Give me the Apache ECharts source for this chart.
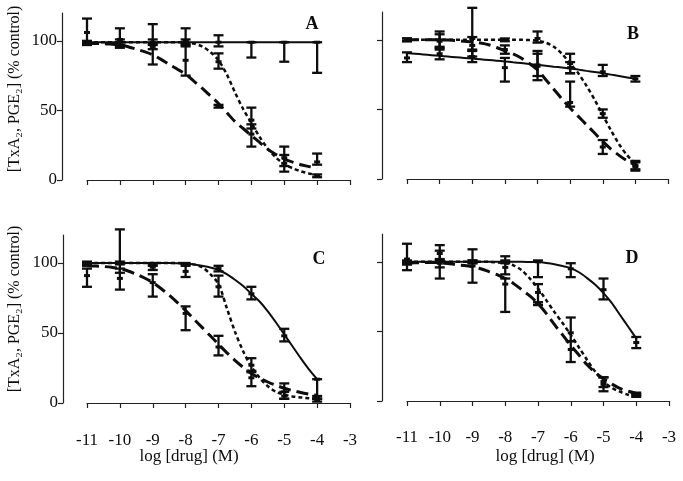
<!DOCTYPE html>
<html><head><meta charset="utf-8">
<script src="https://cdn.jsdelivr.net/npm/echarts@6/dist/echarts.min.js"></script>
<style>html,body{margin:0;padding:0;background:#fff}#c{width:683px;height:481px}</style>
</head><body><div id="c"></div>
<script>
// ---------- data ----------
const doses = [-11, -10, -9, -8, -7, -6, -5, -4];
const xTicks = [-11, -10, -9, -8, -7, -6, -5, -4, -3];
const yTicks = [0, 50, 100];
// fitted-curve sample positions (log M), every 0.25 from -11 to -4
const curveX = [-11, -10.75, -10.5, -10.25, -10, -9.75, -9.5, -9.25, -9, -8.75, -8.5, -8.25, -8,
  -7.75, -7.5, -7.25, -7, -6.75, -6.5, -6.25, -6, -5.75, -5.5, -5.25, -5, -4.75, -4.5, -4.25, -4];
const panelLetters = ['A', 'B', 'C', 'D'];

// Panel A
const A_solidCurve = [99, 99, 99, 99, 99, 99, 99, 99, 99, 99, 99, 99, 99, 99, 99, 99, 99, 99, 99, 99, 99, 99, 99, 99, 99, 99, 99, 99, 99];
const A_shortCurve = [99, 99, 99, 99, 99, 99, 99, 99, 99, 99, 99, 99, 99, 98, 96, 92, 86, 76, 63, 51, 41, 31, 22.5, 16, 11.5, 8.5, 6.3, 4.7, 3.5];
const A_longCurve  = [98, 98, 98, 97.6, 97, 95.8, 94, 92.2, 90, 86.7, 83, 79.6, 76, 71, 66, 60.5, 55, 48.5, 42, 37, 32, 27, 22, 18.3, 15, 12.9, 11, 9.7, 8.5];
const A_solidMean = [106, 101, 98, 100, 99, 99, 99, 99];
const A_solidLow  = [98, 96, 83, 98, 96, 88, 85, 77];
const A_solidHigh = [116, 109, 112, 109, 104, 99, 99, 99];
const A_shortMean = [99, 99, 99, 99, 85, 43, 12, 3];
const A_shortLow  = [98, 97, 97, 97, 80, 37, 6, 2];
const A_shortHigh = [100, 101, 101, 101, 91, 52, 18, 4];
const A_longMean  = [98, 97, 96, 86, 53, 33, 16, 13];
const A_longLow   = [97, 95, 94, 75, 52, 24, 10, 11];
const A_longHigh  = [99, 99, 98, 96, 54, 40, 24, 19];

// Panel B
const B_solidCurve = [90.5, 90, 89.5, 89, 88.5, 88, 87.5, 87, 86.5, 86, 85.5, 85, 84.5, 83.9, 83.3, 82.6, 82, 81.4, 80.7, 80.1, 79.4, 78.6, 77.7, 76.9, 76, 75, 74, 73, 72];
const B_shortCurve = [100, 100, 100, 100, 100, 100, 100, 100, 100, 100, 100, 100, 100, 100, 100, 99.8, 99.3, 98, 95, 90, 83, 76, 67, 57, 46, 35, 25, 17, 11];
const B_longCurve  = [100, 100, 100, 100, 100, 99.8, 99.5, 99, 98.5, 97.7, 96.5, 94.5, 92, 90, 87, 83, 78.5, 71.5, 64.5, 57.5, 51, 45, 39, 33, 27, 21.5, 17, 13, 10];
const B_solidMean = [87, 90, 88, 80, 81, 80, 77, 72];
const B_solidLow  = [84, 86, 84, 70, 71, 76, 74, 70];
const B_solidHigh = [91, 94, 92, 87, 92, 84, 82, 74];
const B_shortMean = [100, 100, 101, 100, 101, 83, 47, 9];
const B_shortLow  = [99, 95, 93, 99, 98, 76, 44, 6];
const B_shortHigh = [101, 106, 123, 101, 106, 90, 50, 12];
const B_longMean  = [100, 99, 96, 93, 82, 55, 23, 10];
const B_longLow   = [99, 93, 88, 90, 74, 52, 18, 7];
const B_longHigh  = [101, 104, 102, 96, 90, 70, 28, 13];

// Panel C
const C_solidCurve = [100, 100, 100, 100, 100, 100, 100, 100, 100, 100, 100, 99.8, 99.5, 99, 98, 96.8, 95, 92, 88, 83.5, 78, 72.5, 65.5, 57.5, 49, 40.5, 32, 24, 17];
const C_shortCurve = [100, 100, 100, 100, 100, 100, 100, 100, 100, 100, 100, 100, 99.5, 99, 97, 92, 85, 68, 51, 37, 26, 18, 12, 8, 6, 4.7, 4, 3.4, 3];
const C_longCurve  = [98, 97.8, 97.5, 96.9, 96, 94.3, 92, 89.3, 86, 81.8, 77, 71.7, 66, 60, 54, 48, 42, 36, 30.5, 25.5, 21, 17.8, 15, 12.6, 10.5, 8.9, 7.5, 6.4, 5.5];
const C_solidMean = [100, 100, 99, 99, 96, 78, 48, 17];
const C_solidLow  = [99, 99, 98, 98, 94, 74, 44, 3];
const C_solidHigh = [101, 101, 100, 100, 98, 83, 53, 17];
const C_shortMean = [99, 100, 97, 94, 83, 27, 5, 2];
const C_shortLow  = [98, 93, 95, 90, 76, 22, 3, 1];
const C_shortHigh = [100, 124, 99, 99, 91, 32, 8, 3];
const C_longMean  = [91, 89, 86, 64, 40, 18, 8, 4];
const C_longLow   = [83, 81, 76, 52, 34, 12, 3, 3];
const C_longHigh  = [96, 96, 92, 69, 48, 23, 14, 5];

// Panel D
const D_solidCurve = [100, 100, 100, 100, 100, 100, 100, 100, 100, 100, 100, 100, 100, 100, 100, 99.9, 99.8, 99.2, 98.3, 97, 95.5, 92.5, 88.3, 83.5, 77.5, 70.5, 62, 53.5, 45];
const D_shortCurve = [100, 100, 100, 100, 100, 100, 100, 100, 100, 100, 100, 99.6, 99, 97.5, 94, 88, 81, 72.5, 64, 56, 47.5, 38.5, 29.5, 21, 14, 9.5, 6.7, 4.5, 3];
const D_longCurve  = [99, 99.3, 99.5, 99.5, 99.4, 98.8, 98, 97.3, 96.5, 95, 93, 90.8, 88, 84.5, 80, 75.5, 70, 63, 55, 47.5, 40, 33, 26, 20.5, 16, 12.3, 9, 7, 5.5];
const D_solidMean = [102, 101, 100, 100, 100, 95, 80, 42];
const D_solidLow  = [94, 88, 99, 99, 89, 89, 73, 38];
const D_solidHigh = [113, 108, 101, 101, 101, 99, 88, 46];
const D_shortMean = [100, 106, 100, 96, 78, 49, 12, 4];
const D_shortLow  = [99, 101, 99, 91, 69, 43, 7, 3];
const D_shortHigh = [101, 112, 101, 104, 84, 60, 17, 5];
const D_longMean  = [99, 99, 97, 84, 70, 37, 14, 5];
const D_longLow   = [98, 96, 85, 64, 69, 28, 10, 4];
const D_longHigh  = [100, 102, 109, 88, 71, 43, 17, 6];

// ---------- build ----------
const panels = [
  {curves:[A_solidCurve, A_shortCurve, A_longCurve], pts:[[A_solidMean,A_solidLow,A_solidHigh],[A_shortMean,A_shortLow,A_shortHigh],[A_longMean,A_longLow,A_longHigh]]},
  {curves:[B_solidCurve, B_shortCurve, B_longCurve], pts:[[B_solidMean,B_solidLow,B_solidHigh],[B_shortMean,B_shortLow,B_shortHigh],[B_longMean,B_longLow,B_longHigh]]},
  {curves:[C_solidCurve, C_shortCurve, C_longCurve], pts:[[C_solidMean,C_solidLow,C_solidHigh],[C_shortMean,C_shortLow,C_shortHigh],[C_longMean,C_longLow,C_longHigh]]},
  {curves:[D_solidCurve, D_shortCurve, D_longCurve], pts:[[D_solidMean,D_solidLow,D_solidHigh],[D_shortMean,D_shortLow,D_shortHigh],[D_longMean,D_longLow,D_longHigh]]}
];
const layout = [
  {left:87, right:333, top:13, bottom:301, xOff:27, yOff:25, showX:false, showY:true, letter:[312,24]},
  {left:407, right:15, top:12, bottom:302, xOff:23, yOff:25, showX:false, showY:false, letter:[633,34]},
  {left:87, right:333, top:235, bottom:78, xOff:24, yOff:24, showX:true, showY:true, letter:[319,259]},
  {left:407, right:14, top:234, bottom:80, xOff:23, yOff:25, showX:true, showY:false, letter:[632,258]}
];
const FONT = "'Liberation Serif','Times New Roman',serif";
const INK = '#0d0d0d';
const lineStyles = [
  {type:'solid', width:2},
  {type:[4,3], width:2.5},
  {type:[12,6], width:3}
];

function renderErr(params, api) {
  const x = api.value(0), m = api.value(1), lo = api.value(2), hi = api.value(3);
  const pLo = api.coord([x, lo]), pHi = api.coord([x, hi]), pM = api.coord([x, m]);
  const cw = 5, mw = 3;
  const st = {stroke: INK, lineWidth: 2.3};
  const ch = [];
  if (Math.abs(pLo[1] - pHi[1]) > 1.5) {
    ch.push({type:'line', shape:{x1:pLo[0], y1:pLo[1], x2:pHi[0], y2:pHi[1]}, style:st});
    ch.push({type:'line', shape:{x1:pHi[0]-cw, y1:pHi[1], x2:pHi[0]+cw, y2:pHi[1]}, style:st});
    ch.push({type:'line', shape:{x1:pLo[0]-cw, y1:pLo[1], x2:pLo[0]+cw, y2:pLo[1]}, style:st});
  }
  ch.push({type:'rect', shape:{x:pM[0]-mw, y:pM[1]-1.5, width:2*mw, height:3}, style:{fill: INK}});
  return {type:'group', children: ch};
}

const grid = [], xAxis = [], yAxis = [], series = [];
layout.forEach((L, i) => {
  grid.push({left:L.left, right:L.right, top:L.top, bottom:L.bottom, containLabel:false, outerBoundsMode:'none'});
  xAxis.push({
    type:'value', gridIndex:i, min:-11, max:-3, interval:1, offset:L.xOff,
    axisLine:{show:true, lineStyle:{color:'#222', width:1.2}},
    axisTick:{show:true, inside:false, length:5, lineStyle:{color:'#222', width:1.2}},
    axisLabel:{show:L.showX, color:INK, fontFamily:FONT, fontSize:17, margin:5, customValues: xTicks},
    splitLine:{show:false}
  });
  yAxis.push({
    type:'value', gridIndex:i, min:0, max:120, interval:50, offset:L.yOff,
    axisLine:{show:true, lineStyle:{color:'#222', width:1.2}},
    axisTick:{show:true, length:5, lineStyle:{color:'#222', width:1.2}, customValues: yTicks},
    axisLabel:{show:L.showY, color:INK, fontFamily:FONT, fontSize:17, margin:5, customValues: yTicks},
    splitLine:{show:false}
  });
  const P = panels[i];
  P.curves.forEach((c, k) => {
    series.push({
      type:'line', xAxisIndex:i, yAxisIndex:i, data: curveX.map((x, j) => [x, c[j]]),
      smooth:0.3, showSymbol:false, symbol:'none', silent:true,
      lineStyle:{color:INK, width:lineStyles[k].width, type:lineStyles[k].type, cap:'butt'},
      animation:false, clip:false, z:2
    });
  });
  P.pts.forEach((p, k) => {
    series.push({
      type:'custom', xAxisIndex:i, yAxisIndex:i, renderItem: renderErr, clip:false,
      data: doses.map((d, j) => [d, p[0][j], p[1][j], p[2][j]]),
      encode:{x:0, y:1}, animation:false, silent:true, z:3
    });
  });
});

const graphic = [];
layout.forEach((L, i) => {
  graphic.push({type:'text', x:L.letter[0], y:L.letter[1],
    style:{text:panelLetters[i], font:"bold 18px " + FONT, fill:INK, textAlign:'center', textVerticalAlign:'middle'}});
});
// y-axis titles
[[15, 89], [15, 309]].forEach(p => {
  graphic.push({type:'text', x:p[0], y:p[1], rotation:Math.PI/2,
    style:{text:'[TxA\u2082, PGE\u2082] (% control)', font:"16px " + FONT, fill:INK, textAlign:'center', textVerticalAlign:'middle'}});
});
// x-axis titles
[[189, 457], [545, 457]].forEach(p => {
  graphic.push({type:'text', x:p[0], y:p[1],
    style:{text:'log [drug] (M)', font:"17px " + FONT, fill:INK, textAlign:'center', textVerticalAlign:'middle'}});
});

const chart = echarts.init(document.getElementById('c'), null, {renderer:'canvas'});
chart.setOption({animation:false, backgroundColor:'#fff', grid, xAxis, yAxis, series, graphic});
</script></body></html>
